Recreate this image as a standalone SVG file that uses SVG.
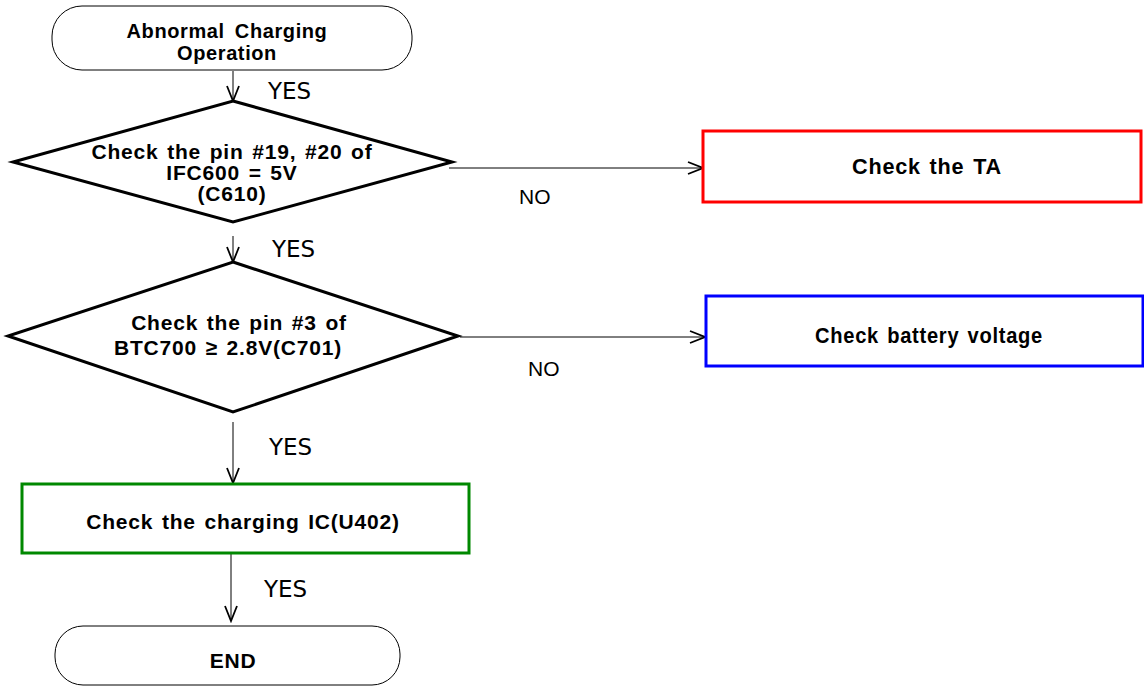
<svg xmlns="http://www.w3.org/2000/svg" width="1144" height="686" viewBox="0 0 1144 686">
<style>
.term{fill:#fff;stroke:#000;stroke-width:1}
.dia{fill:#fff;stroke:#000;stroke-width:3}
.lbl{font-family:"Liberation Sans",Arial,sans-serif;font-weight:bold;font-size:21px;letter-spacing:0.8px;word-spacing:2px;fill:#000;text-anchor:middle}
.yn{font-family:"DejaVu Sans",Verdana,sans-serif;font-size:23px;fill:#000}
.no{font-family:"Liberation Sans",Arial,sans-serif;font-size:21px;fill:#000}
.conn{stroke:#000;stroke-width:1;fill:none;marker-end:url(#arr)}
</style>
<defs>
<marker id="arr" markerWidth="20" markerHeight="20" refX="18" refY="10" orient="auto" markerUnits="userSpaceOnUse">
<path d="M3,4 L18,10 L3,16" fill="none" stroke="#000" stroke-width="1.8"/>
</marker>
</defs>
<g id="connectors">
<line class="conn" x1="233" y1="71" x2="233" y2="101"/>
<line class="conn" x1="449" y1="168" x2="703" y2="168"/>
<line class="conn" x1="233" y1="236" x2="233" y2="262"/>
<line class="conn" x1="460" y1="337" x2="705" y2="337" stroke="#666"/>
<line class="conn" x1="233" y1="422" x2="233" y2="483"/>
<line class="conn" x1="231" y1="554" x2="231" y2="621" stroke="#666"/>
<text class="yn" x="268" y="99">YES</text>
<text class="no" x="519" y="204">NO</text>
<text class="yn" x="272" y="257">YES</text>
<text class="no" x="528" y="376">NO</text>
<text class="yn" x="269" y="455">YES</text>
<text class="yn" x="264" y="597">YES</text>
</g>
<g id="start">
<rect class="term" x="52" y="6" width="360" height="64" rx="30" ry="30"/>
<text class="lbl" x="227" y="38" style="font-size:20px;letter-spacing:0.6px;word-spacing:4px">Abnormal Charging</text>
<text class="lbl" x="227" y="60" style="font-size:20px;letter-spacing:0.6px">Operation</text>
</g>
<g id="check1">
<polygon class="dia" points="233,101 452,162 233,222 13,162"/>
<text class="lbl" x="232" y="159">Check the pin #19, #20 of</text>
<text class="lbl" x="232" y="180">IFC600 = 5V</text>
<text class="lbl" x="232" y="201">(C610)</text>
</g>
<g id="checkTA">
<rect x="703" y="131" width="438" height="71" fill="#fff" stroke="#f00" stroke-width="3"/>
<text class="lbl" x="927" y="174" style="font-size:22px" textLength="150" lengthAdjust="spacingAndGlyphs">Check the TA</text>
</g>
<g id="check2">
<polygon class="dia" points="233,262 458,336 233,412 8,336"/>
<text class="lbl" x="239" y="330">Check the pin #3 of</text>
<text class="lbl" x="228" y="355">BTC700 ≥ 2.8V(C701)</text>
</g>
<g id="checkBattery">
<rect x="706" y="296" width="437" height="70" fill="#fff" stroke="#00f" stroke-width="3"/>
<text class="lbl" x="929" y="343" style="font-size:22px" textLength="228" lengthAdjust="spacingAndGlyphs">Check battery voltage</text>
</g>
<g id="checkIC">
<rect x="22" y="484" width="447" height="69" fill="#fff" stroke="#080" stroke-width="3"/>
<text class="lbl" x="243" y="529">Check the charging IC(U402)</text>
</g>
<g id="end">
<rect class="term" x="55" y="626" width="345" height="59" rx="28" ry="28"/>
<text class="lbl" x="233" y="668">END</text>
</g>
</svg>
